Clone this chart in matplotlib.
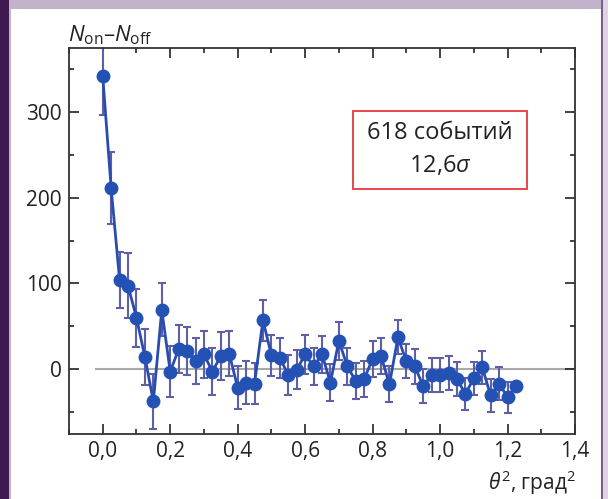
import numpy as np
import matplotlib.pyplot as plt
from matplotlib.patches import Rectangle
from matplotlib.ticker import MultipleLocator, FuncFormatter

plt.rcParams['font.family'] = ['Open Sans', 'DejaVu Sans']
plt.rcParams['mathtext.fontset'] = 'custom'
plt.rcParams['mathtext.it'] = 'Open Sans:italic'
plt.rcParams['mathtext.rm'] = 'Open Sans'

# theta^2 bins, 0.025 deg^2 wide
theta2 = [0.025 * i for i in range(50)]
excess = [342, 211, 104, 97, 60, 14, -38, 69, -3, 23,
          21, 9, 17, -3, 15, 18, -22, -16, -17, 57,
          16, 13, -7, -1, 17, 3, 17, -16, 33, 3,
          -14, -12, 12, 15, -18, 37, 9, 3, -20, -7,
          -7, -5, -12, -29, -11, 2, -31, -17, -33, -20]
errors = [45, 42, 33, 38, 34, 33, 32, 31, 30, 28,
          28, 27, 27, 27, 28, 26, 25, 25, 24, 24,
          24, 23, 23, 23, 23, 22, 22, 22, 22, 22,
          21, 21, 21, 21, 21, 20, 20, 20, 20, 20,
          20, 20, 20, 19, 19, 19, 19, 19, 18, 0]

fig = plt.figure(figsize=(6.08, 4.99), dpi=100)
fig.patch.set_facecolor('white')

# frame decoration of the source page
fig.patches.append(Rectangle((0, 0), 11 / 608, 1, transform=fig.transFigure,
                             facecolor='#c2b3cb', edgecolor='none', zorder=0))
fig.patches.append(Rectangle((0, 0), 9 / 608, 1, transform=fig.transFigure,
                             facecolor='#3e1a50', edgecolor='none', zorder=1))
fig.patches.append(Rectangle((0, 1 - 9 / 499), 1, 9 / 499, transform=fig.transFigure,
                             facecolor='#c2b3cb', edgecolor='none', zorder=0))
fig.patches.append(Rectangle((1 - 7 / 608, 0), 7 / 608, 1, transform=fig.transFigure,
                             facecolor='#ddd3e2', edgecolor='none', zorder=0))
fig.patches.append(Rectangle((1 - 7 / 608, 0), 1.5 / 608, 1, transform=fig.transFigure,
                             facecolor='#7b5a8c', edgecolor='none', zorder=1))

ax = fig.add_axes([69 / 608, 65 / 499, 506 / 608, 386 / 499])

ax.plot([-0.02, 1.4], [0, 0], color='#a8a8a8', lw=1.5, zorder=1)
ax.errorbar(theta2, excess, yerr=errors, fmt='none', ecolor='#5d5fa8',
            elinewidth=1.5, capsize=3, capthick=1.5, zorder=2)
ax.plot(theta2, excess, color='#2a4cb0', lw=2, marker='o', ms=9,
        mfc='#2352b4', mec='#2352b4', zorder=3)

ax.set_xlim(-0.1, 1.4)
ax.set_ylim(-76, 375)
ax.xaxis.set_major_locator(MultipleLocator(0.2))
ax.xaxis.set_minor_locator(MultipleLocator(0.1))
ax.yaxis.set_major_locator(MultipleLocator(100))
ax.yaxis.set_minor_locator(MultipleLocator(50))
ax.xaxis.set_major_formatter(FuncFormatter(lambda v, p: f'{v:.1f}'.replace('.', ',')))
ax.tick_params(which='both', direction='in', top=True, right=True,
               labelsize=15, colors='#222222', width=1.2)
ax.tick_params(which='major', length=7, pad=5)
ax.tick_params(which='minor', length=3.5)
for s in ax.spines.values():
    s.set_color('#333333')
    s.set_linewidth(1.3)

ax.add_patch(Rectangle((0.561, 0.635), 0.344, 0.203, transform=ax.transAxes,
                       facecolor='white', edgecolor='#e8383d', lw=1.3, zorder=4))
ax.text(0.733, 0.78, '618 событий', transform=ax.transAxes, ha='center',
        va='center', fontsize=17, color='#222222', zorder=5)
ax.text(0.733, 0.694, r'12,6$\it{\sigma}$', transform=ax.transAxes, ha='center',
        va='center', fontsize=17, color='#222222', zorder=5)

fig.text(68 / 608, 1 - 35 / 499, r'$N_{\rm on}$–$N_{\rm off}$', ha='left',
         va='center', fontsize=16, color='#222222')
fig.text(576 / 608, 1 - 483 / 499, r'$\theta^2$, град$^2$', ha='right',
         va='center', fontsize=15, color='#222222')

fig.savefig('out.png', dpi=100)
